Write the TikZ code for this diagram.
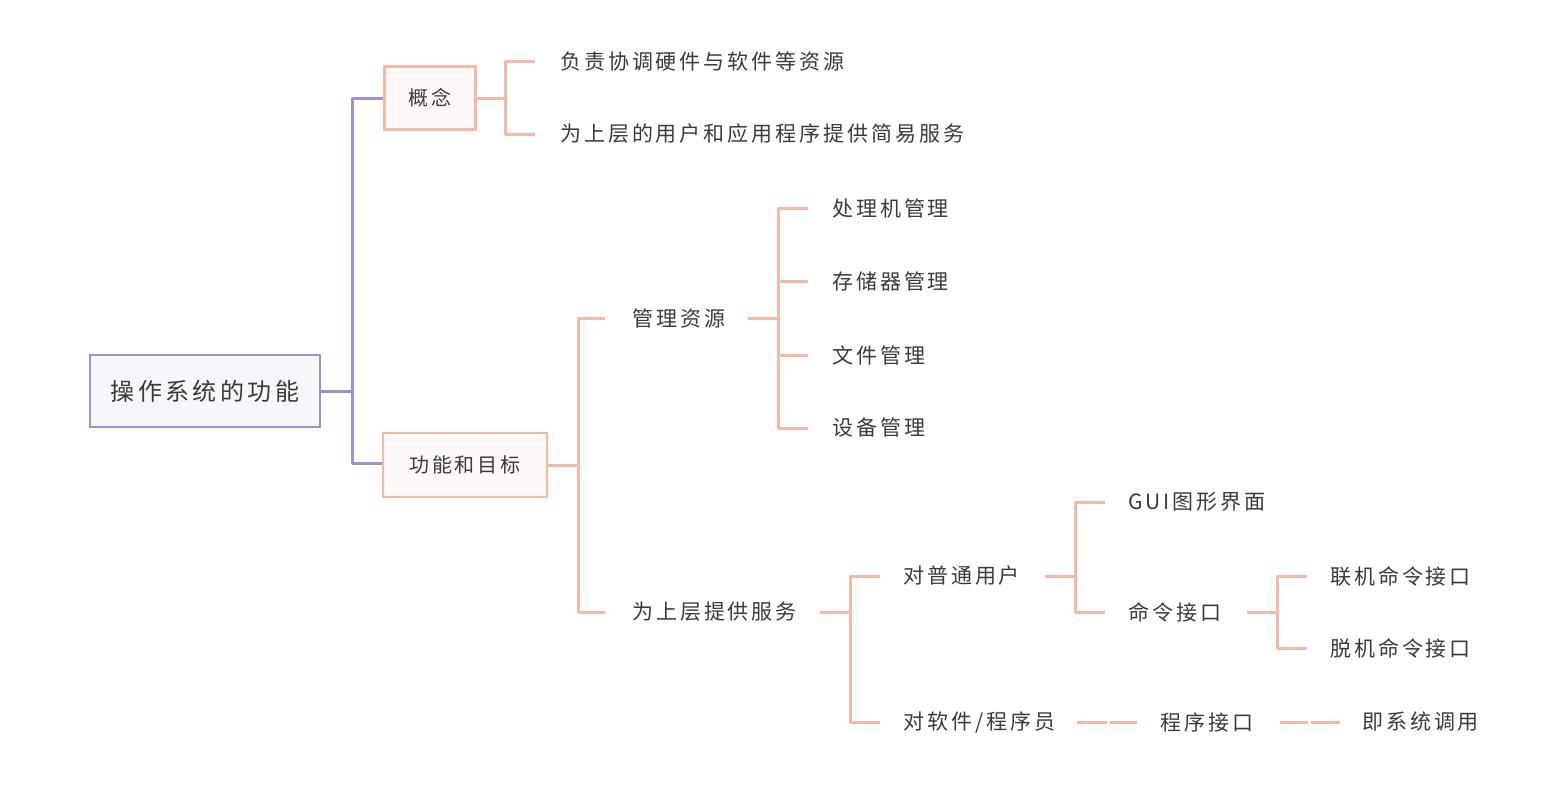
\documentclass[tikz,border=0pt]{standalone}
\usepackage{fontspec}
\setmainfont{Noto Sans CJK SC}[LetterSpace=14]
\usetikzlibrary{patterns}
\definecolor{pu}{HTML}{9D92D2}
\definecolor{sa}{HTML}{F5B9A7}
\definecolor{tx}{HTML}{3A3A3A}
\begin{document}
\begin{tikzpicture}[x=1pt,y=-1pt,
  box/.style={draw=#1,line width=2.5pt,fill=#1!8,inner sep=0pt},
  leaf/.style={anchor=west,text=tx,font=\fontsize{21}{24}\selectfont,inner sep=0pt},
  sal/.style={draw=sa,line width=3pt,line join=round},
  pul/.style={draw=pu,line width=3pt,line join=round}]
\useasboundingbox (0,0) rectangle (1563,798);
\node[box=pu,minimum width=230,minimum height=72,text=tx,font=\fontsize{24}{28}\selectfont] (root) at (205,391) {操作系统的功能};
\node[box=sa,minimum width=91,minimum height=63,text=tx,font=\fontsize{20}{24}\selectfont] (gn) at (430,98) {概念};
\node[box=sa,minimum width=164,minimum height=64,text=tx,font=\fontsize{20}{24}\selectfont] (gm) at (465,465) {功能和目标};
\draw[pul] (root.east) -- (352,391);
\draw[pul] (gn.west) -- (352,98) -- (352,463) -- (gm.west|-352,463);
% 概念
\node[leaf] (a1) at (560,61) {负责协调硬件与软件等资源};
\node[leaf] (a2) at (560,134) {为上层的用户和应用程序提供简易服务};
\draw[sal] (gn.east) -- (505,98);
\draw[sal] (535,61) -- (505,61) -- (505,134) -- (535,134);
% 功能和目标
\node[leaf] (b1) at (632,318) {管理资源};
\node[leaf] (b2) at (632,612) {为上层提供服务};
\draw[sal] (gm.east) -- (578,465);
\draw[sal] (605,318) -- (578,318) -- (578,612) -- (605,612);
% 管理资源
\node[leaf] (c1) at (832,208) {处理机管理};
\node[leaf] (c2) at (832,281) {存储器管理};
\node[leaf] (c3) at (832,355) {文件管理};
\node[leaf] (c4) at (832,428) {设备管理};
\draw[sal] (748,318) -- (778,318);
\draw[sal] (808,208) -- (778,208) -- (778,428) -- (808,428);
\draw[sal] (778,281) -- (808,281);
\draw[sal] (778,355) -- (808,355);
% 为上层提供服务
\node[leaf] (d1) at (903,576) {对普通用户};
\node[leaf] (d2) at (903,722) {对软件/程序员};
\draw[sal] (820,612) -- (850,612);
\draw[sal] (880,576) -- (850,576) -- (850,722) -- (880,722);
% 对普通用户
\node[leaf] (e1) at (1128,502) {GUI图形界面};
\node[leaf] (e2) at (1128,612) {命令接口};
\draw[sal] (1045,576) -- (1075,576);
\draw[sal] (1105,502) -- (1075,502) -- (1075,612) -- (1105,612);
% 命令接口
\node[leaf] (f1) at (1330,576) {联机命令接口};
\node[leaf] (f2) at (1330,648) {脱机命令接口};
\draw[sal] (1247,612) -- (1277,612);
\draw[sal] (1307,576) -- (1277,576) -- (1277,648) -- (1307,648);
% 对软件/程序员
\node[leaf] (g1) at (1160,722) {程序接口};
\draw[sal] (1077,722) -- (1107,722);
\draw[sal] (1110,722) -- (1137,722);
\node[leaf] (h1) at (1362,722) {即系统调用};
\draw[sal] (1280,722) -- (1308,722);
\draw[sal] (1311,722) -- (1340,722);
\end{tikzpicture}
\end{document}
